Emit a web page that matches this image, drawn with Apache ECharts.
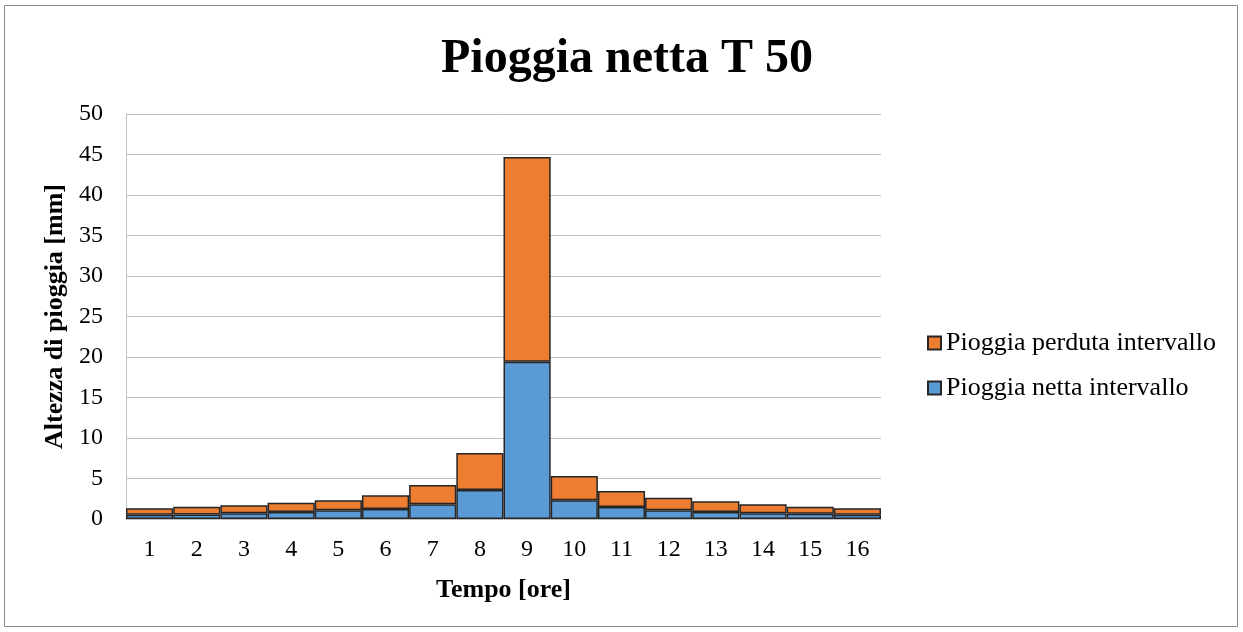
<!DOCTYPE html>
<html lang="it" style="height: 100%">

<head>
    <meta charset="UTF-8">
    <title>Pioggia netta T 50</title>
    <script type="text/javascript" src="https://cdn.jsdelivr.net/npm/echarts@6/dist/echarts.min.js"></script>
</head>

<body style="height: 100%; margin: 0; background: #fff">
    <div id="container" style="width: 1243px; height: 632px"></div>
    <script type="text/javascript">
    var ore = ['1', '2', '3', '4', '5', '6', '7', '8', '9', '10', '11', '12', '13', '14', '15', '16'];
    // pioggia netta (parte bassa, blu)
    var nettaIntervallo = [0.53, 0.55, 0.70, 0.86, 1.07, 1.23, 1.81, 3.58, 19.4, 2.30, 1.48, 1.07, 0.86, 0.70, 0.65, 0.53];
    // pioggia perduta (parte alta, arancio)
    var perdutaIntervallo = [0.79, 0.97, 0.99, 1.15, 1.23, 1.69, 2.39, 4.57, 25.3, 3.01, 1.98, 1.56, 1.32, 1.11, 0.87, 0.79];

    var font = 'Liberation Serif, Times New Roman, serif';

    var myChart = echarts.init(document.getElementById('container'));

    var option = {
        backgroundColor: '#fff',
        textStyle: { fontFamily: font },
        animation: false,
        title: {
            text: 'Pioggia netta T 50',
            left: 622,
            top: 31,
            textAlign: 'center',
            textStyle: {
                fontFamily: font,
                fontSize: 48,
                fontWeight: 'bold',
                color: '#000'
            }
        },
        graphic: [{
            type: 'rect',
            shape: { x: 4.5, y: 5.5, width: 1233, height: 621 },
            style: { fill: 'none', stroke: '#8c8c8c', lineWidth: 1 },
            silent: true
        }],
        legend: {
            orient: 'vertical',
            left: 922,
            top: 325,
            icon: 'rect',
            itemWidth: 13,
            itemHeight: 13,
            itemGap: 19,
            data: ['Pioggia perduta intervallo', 'Pioggia netta intervallo'],
            textStyle: {
                fontFamily: font,
                fontSize: 26,
                color: '#000'
            }
        },
        grid: {
            left: 126,
            right: 362,
            top: 114,
            bottom: 113
        },
        xAxis: {
            type: 'category',
            data: ore,
            name: 'Tempo [ore]',
            nameLocation: 'middle',
            nameGap: 58,
            nameTextStyle: {
                fontFamily: font,
                fontSize: 26,
                fontWeight: 'bold',
                color: '#000'
            },
            axisLine: { lineStyle: { color: '#bfbfbf', width: 1 } },
            axisTick: { show: false },
            axisLabel: {
                margin: 19,
                fontFamily: font,
                fontSize: 24,
                color: '#000'
            }
        },
        yAxis: {
            type: 'value',
            min: 0,
            max: 50,
            interval: 5,
            name: 'Altezza di pioggia [mm]',
            nameLocation: 'middle',
            nameGap: 57,
            nameTextStyle: {
                fontFamily: font,
                fontSize: 26,
                fontWeight: 'bold',
                color: '#000'
            },
            axisLine: { show: true, lineStyle: { color: '#bfbfbf', width: 1 } },
            axisTick: { show: false },
            splitLine: { lineStyle: { color: '#bfbfbf', width: 1 } },
            axisLabel: {
                margin: 23,
                fontFamily: font,
                fontSize: 24,
                color: '#000'
            }
        },
        series: [{
            name: 'Pioggia netta intervallo',
            type: 'bar',
            stack: 'pioggia',
            barCategoryGap: 0,
            itemStyle: {
                color: '#5b9bd5',
                borderColor: '#262626',
                borderWidth: 1.5
            },
            data: nettaIntervallo
        }, {
            name: 'Pioggia perduta intervallo',
            type: 'bar',
            stack: 'pioggia',
            barCategoryGap: 0,
            itemStyle: {
                color: '#ed7d31',
                borderColor: '#262626',
                borderWidth: 1.5
            },
            data: perdutaIntervallo
        }]
    };

    myChart.setOption(option);
    </script>
</body>

</html>
